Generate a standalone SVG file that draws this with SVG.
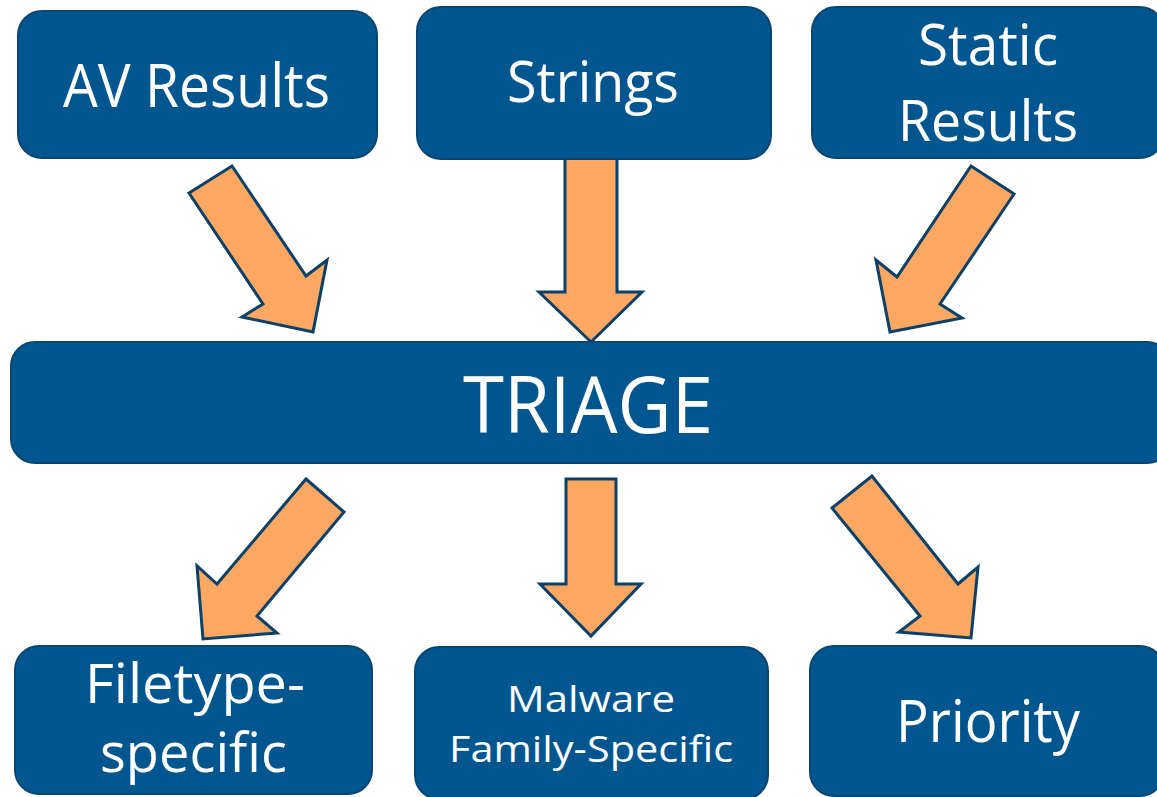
<svg xmlns="http://www.w3.org/2000/svg" width="1157" height="797" viewBox="0 0 1157 797">
<style>
.box{fill:#02568F;stroke:#0A4673;stroke-width:2}
.arr{fill:#FCA863;stroke:#0B4069;stroke-width:3;stroke-linejoin:miter}
.t{font-family:"Open Sans","Liberation Sans",sans-serif;fill:#fff;text-anchor:middle}
</style>
<rect width="1157" height="797" fill="#fff"/>
<g id="connectors">
<polygon class="arr" points="189,193 232,166 306,276 327,260 313,332 242,317 263,304"/>
<polygon class="arr" points="565,157 617,157 617,292 642,292 591,342 539,292 565,292"/>
<polygon class="arr" points="971,166 1014,194 940,304 962,318 890,332 876,260 897,277"/>
<polygon class="arr" points="306,479 344,512 257,616 277,633 203,639 197,566 217,584"/>
<polygon class="arr" points="566,479 616,479 616,584 641,584 591,636 540,584 566,584"/>
<polygon class="arr" points="872,476 832,508 920,616 899,632 971,638 978,567 958,584"/>
</g>
<g id="av">
<rect class="box" x="18" y="11" width="359" height="147" rx="24"/>
<text class="t" x="196.5" y="107" font-size="60" textLength="267" lengthAdjust="spacingAndGlyphs">AV Results</text>
</g>
<g id="strings">
<rect class="box" x="417" y="7" width="354" height="152" rx="24"/>
<text class="t" x="593" y="102" font-size="57" textLength="172" lengthAdjust="spacingAndGlyphs">Strings</text>
</g>
<g id="static">
<rect class="box" x="812" y="7" width="352" height="151" rx="24"/>
<text class="t" x="988" y="65" font-size="57" textLength="140" lengthAdjust="spacingAndGlyphs">Static</text>
<text class="t" x="988" y="141" font-size="57" textLength="180" lengthAdjust="spacingAndGlyphs">Results</text>
</g>
<g id="triage">
<rect class="box" x="11" y="342" width="1160" height="121" rx="24"/>
<text class="t" x="588" y="433" font-size="79" textLength="250" lengthAdjust="spacingAndGlyphs">TRIAGE</text>
</g>
<g id="filetype">
<rect class="box" x="15" y="646" width="357" height="148" rx="24"/>
<text class="t" x="195" y="703" font-size="55" textLength="220" lengthAdjust="spacingAndGlyphs">Filetype-</text>
<text class="t" x="193.5" y="772" font-size="55" textLength="187" lengthAdjust="spacingAndGlyphs">specific</text>
</g>
<g id="malware">
<rect class="box" x="415" y="647" width="353" height="152" rx="24"/>
<text class="t" x="591" y="712" font-size="37" textLength="168" lengthAdjust="spacingAndGlyphs">Malware</text>
<text class="t" x="591" y="762" font-size="37" textLength="284" lengthAdjust="spacingAndGlyphs">Family-Specific</text>
</g>
<g id="priority">
<rect class="box" x="810" y="646" width="354" height="150" rx="24"/>
<text class="t" x="988" y="742" font-size="58" textLength="184" lengthAdjust="spacingAndGlyphs">Priority</text>
</g>
</svg>
